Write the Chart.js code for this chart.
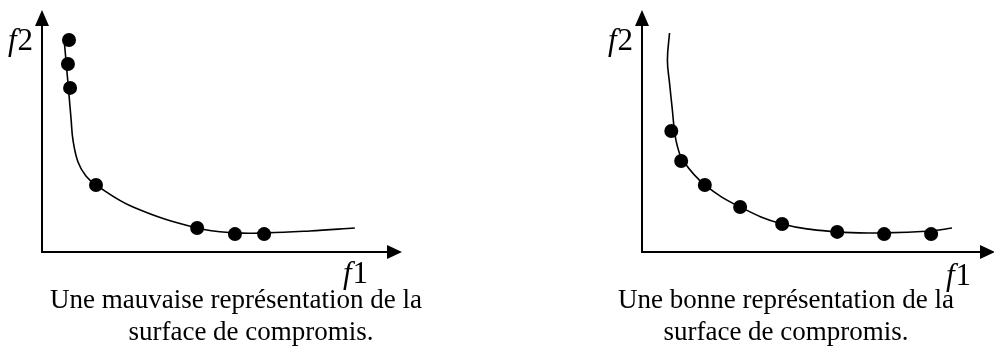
<!DOCTYPE html>
<html>
<head>
<meta charset="utf-8">
<script src="https://cdn.jsdelivr.net/npm/chart.js@4"></script>
<style>
  html, body { margin: 0; padding: 0; background: #fff; overflow: hidden; }
  #wrap { position: relative; width: 994px; height: 354px; overflow: hidden; }
  canvas { position: absolute; top: 0; }
</style>
</head>
<body>
<div id="wrap">
  <canvas id="left" width="497" height="354" style="left:0"></canvas>
  <canvas id="right" width="505" height="354" style="left:497px"></canvas>
</div>
<script>
// axes run 0..100 on both f1 and f2 (arbitrary units)
const leftCurveX = [6.1, 6.7, 7.5, 8.1, 8.6, 10.0, 12.2, 15.0, 25.3, 43.1, 53.6, 62.5, 74.4, 86.9];
const leftCurveY = [88.4, 78.5, 64.9, 54.5, 46.3, 37.2, 31.4, 27.7, 18.6, 9.9, 7.9, 7.9, 8.7, 9.9];
const leftPointX = [7.5, 7.2, 7.8, 15.0, 43.1, 53.6, 61.7];
const leftPointY = [87.6, 77.7, 67.8, 27.7, 9.9, 7.4, 7.4];

const rightCurveX = [7.8, 7.2, 7.8, 8.6, 9.2, 10.0, 11.7, 17.8, 27.8, 39.7, 55.3, 68.6, 81.9, 87.8];
const rightCurveY = [90.5, 79.3, 69.8, 58.7, 50.0, 43.8, 37.6, 27.7, 18.6, 11.6, 8.3, 7.9, 8.7, 9.9];
const rightPointX = [8.3, 11.1, 17.8, 27.8, 39.7, 55.3, 68.6, 81.9];
const rightPointY = [50.0, 37.6, 27.7, 18.6, 11.6, 8.3, 7.4, 7.4];

const leftCaption = ['Une mauvaise représentation de la', 'surface de compromis.'];
const rightCaption = ['Une bonne représentation de la', 'surface de compromis.'];
const xAxisName = ['f', '1'];
const yAxisName = ['f', '2'];

const toXY = (xs, ys) => xs.map((x, i) => ({ x: x, y: ys[i] }));

// axes with arrow heads, axis names and the caption under the plot
const sketchAxes = {
  id: 'sketchAxes',
  afterDraw(chart, args, opts) {
    const ctx = chart.ctx;
    const sx = chart.scales.x, sy = chart.scales.y;
    const x0 = sx.getPixelForValue(0), y0 = sy.getPixelForValue(0);
    const xTip = sx.getPixelForValue(100), yTip = sy.getPixelForValue(100);
    ctx.save();
    ctx.strokeStyle = '#000';
    ctx.fillStyle = '#000';
    ctx.lineWidth = 2;
    ctx.beginPath();
    ctx.moveTo(x0, yTip + 10);
    ctx.lineTo(x0, y0);
    ctx.lineTo(xTip - 10, y0);
    ctx.stroke();
    // arrow heads
    ctx.beginPath();
    ctx.moveTo(xTip, y0);
    ctx.lineTo(xTip - 15, y0 - 7);
    ctx.lineTo(xTip - 15, y0 + 7);
    ctx.closePath();
    ctx.fill();
    ctx.beginPath();
    ctx.moveTo(x0, yTip);
    ctx.lineTo(x0 - 7, yTip + 16);
    ctx.lineTo(x0 + 7, yTip + 16);
    ctx.closePath();
    ctx.fill();

    // axis names: italic f + upright digit
    const drawName = (parts, x, y) => {
      ctx.textAlign = 'left';
      ctx.textBaseline = 'alphabetic';
      ctx.font = 'italic 31px "Liberation Serif"';
      ctx.fillText(parts[0], x, y);
      const w = ctx.measureText(parts[0]).width;
      ctx.font = '31px "Liberation Serif"';
      ctx.fillText(parts[1], x + w + 1, y);
    };
    drawName(yAxisName, opts.f2[0], opts.f2[1]);
    drawName(xAxisName, opts.f1[0], opts.f1[1]);

    ctx.font = '27px "Liberation Serif"';
    ctx.textAlign = 'center';
    opts.caption.forEach((line, i) => {
      ctx.fillText(line, opts.capX[i], opts.capY[i]);
    });
    ctx.restore();
  }
};

function makeSketch(id, curveX, curveY, pointX, pointY, pad, labels) {
  return new Chart(document.getElementById(id), {
    type: 'scatter',
    data: {
      datasets: [{
        data: toXY(curveX, curveY),
        showLine: true,
        tension: 0.4,
        borderColor: '#000',
        borderWidth: 1.6,
        pointRadius: 0,
        clip: false
      }, {
        data: toXY(pointX, pointY),
        pointRadius: 7,
        pointBackgroundColor: '#000',
        pointBorderWidth: 0,
        clip: false
      }]
    },
    options: {
      responsive: false,
      animation: false,
      layout: { padding: pad },
      scales: {
        x: { type: 'linear', min: 0, max: 100, display: false },
        y: { type: 'linear', min: 0, max: 100, display: false }
      },
      plugins: {
        legend: { display: false },
        tooltip: { enabled: false },
        sketchAxes: labels
      }
    },
    plugins: [sketchAxes]
  });
}

makeSketch('left', leftCurveX, leftCurveY, leftPointX, leftPointY,
  { left: 42, right: 95, top: 10, bottom: 102 },
  { f2: [8, 50], f1: [343, 283], caption: leftCaption, capX: [236, 251], capY: [308, 340] });

makeSketch('right', rightCurveX, rightCurveY, rightPointX, rightPointY,
  { left: 145, right: 0, top: 10, bottom: 102 },
  { f2: [111, 50], f1: [449, 285], caption: rightCaption, capX: [289, 289], capY: [308, 340] });
</script>
</body>
</html>
